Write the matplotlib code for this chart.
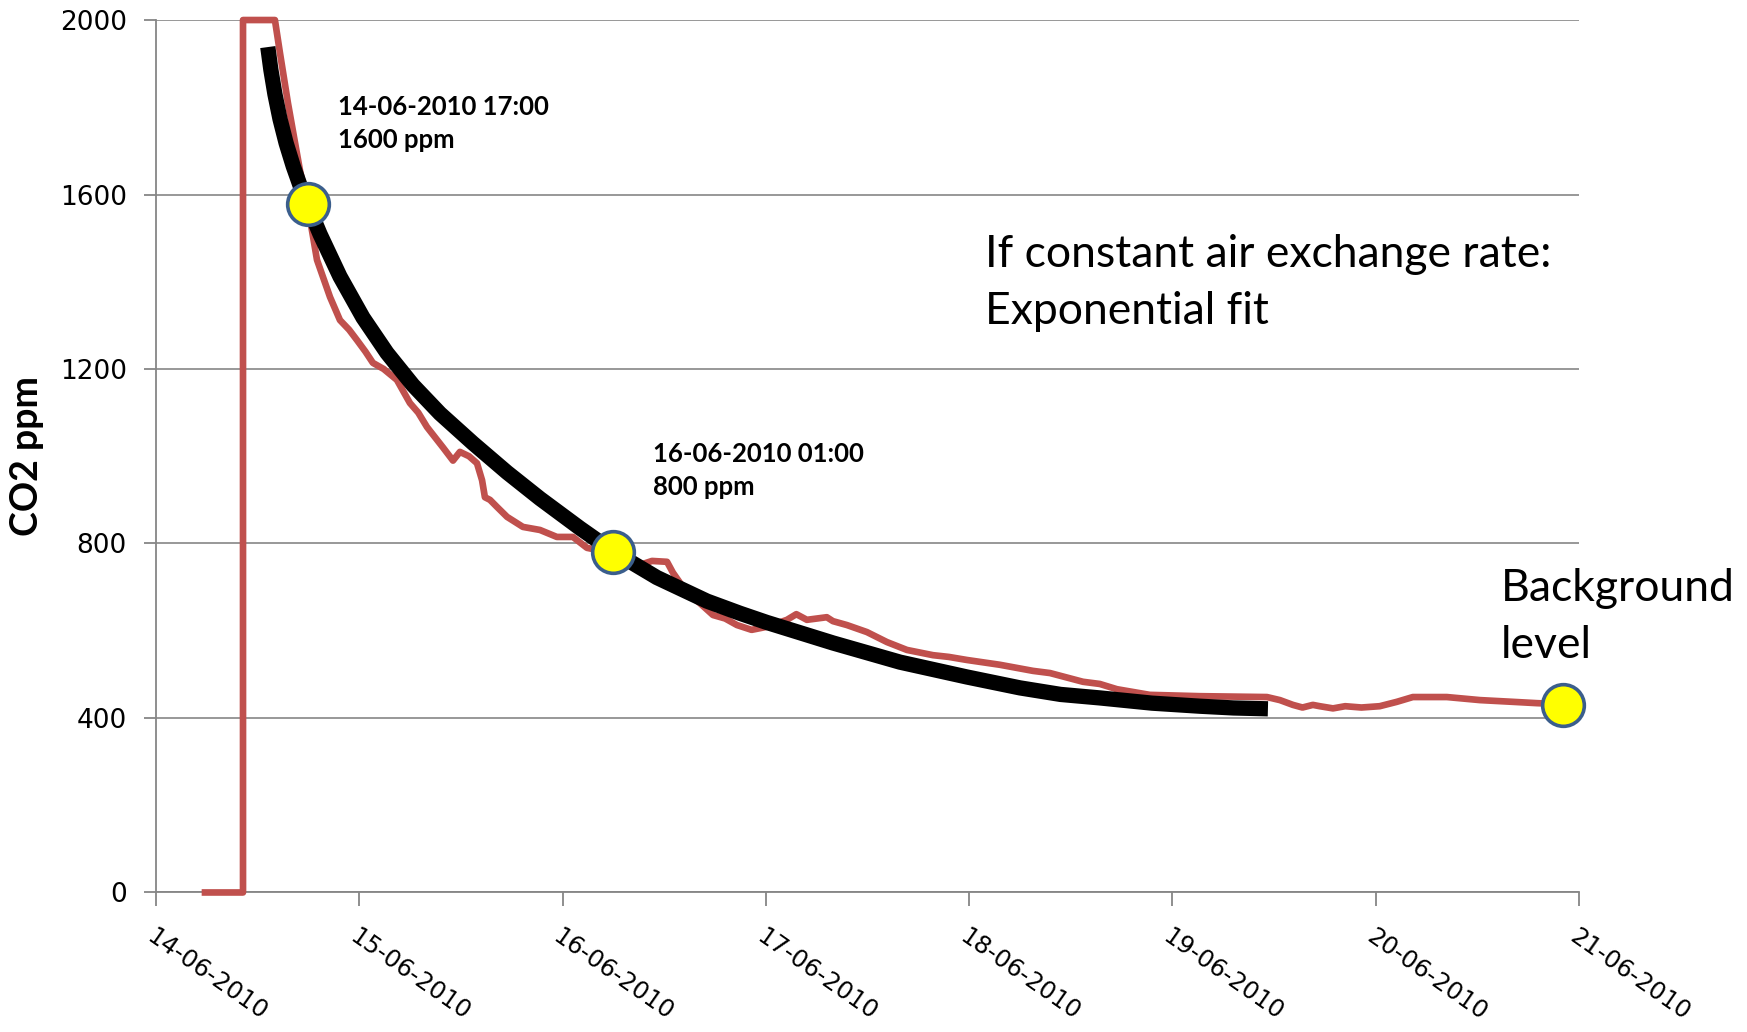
#!/usr/bin/env python

import numpy as np

#	no display here
import matplotlib
matplotlib.use('Agg')

import matplotlib.pyplot as plt

plt.rcParams["figure.figsize"] = [17.47, 10.32]
plt.rcParams["font.family"] = ['DejaVu Sans']

#	days counted from 14-06-2010 00:00
day_labels = ['14-06-2010', '15-06-2010', '16-06-2010', '17-06-2010',
	'18-06-2010', '19-06-2010', '20-06-2010', '21-06-2010']

co2_days = [0.241, 0.428, 0.428, 0.585, 0.610, 0.649, 0.708, 0.748, 0.792, 0.856,
	0.905, 0.950, 0.989, 1.030, 1.067, 1.120, 1.185, 1.249, 1.290, 1.333,
	1.412, 1.461, 1.495, 1.540, 1.579, 1.604, 1.618, 1.643, 1.677, 1.727,
	1.805, 1.889, 1.972, 2.051, 2.120, 2.248, 2.381, 2.440, 2.514, 2.543,
	2.612, 2.676, 2.740, 2.800, 2.858, 2.930, 3.005, 3.104, 3.150, 3.202,
	3.300, 3.330, 3.399, 3.497, 3.596, 3.694, 3.822, 3.900, 3.989, 4.151,
	4.314, 4.398, 4.560, 4.643, 4.727, 4.889, 4.973, 5.135, 5.300, 5.465,
	5.529, 5.593, 5.640, 5.691, 5.725, 5.790, 5.850, 5.930, 6.020, 6.104,
	6.183, 6.350, 6.513, 6.675, 6.793, 6.900]
co2_ppm = [0, 0, 2000, 2000, 1924, 1810, 1656, 1570, 1450, 1365,
	1312, 1290, 1266, 1240, 1214, 1200, 1175, 1122, 1100, 1067,
	1020, 990, 1010, 1000, 984, 945, 906, 900, 884, 861,
	838, 831, 815, 815, 790, 778, 751, 760, 758, 733,
	687, 663, 636, 628, 613, 602, 609, 625, 638, 625,
	631, 622, 613, 597, 574, 556, 544, 540, 533, 522,
	508, 503, 483, 478, 466, 453, 452, 450, 449, 448,
	441, 430, 424, 430, 427, 422, 427, 424, 427, 437,
	448, 448, 441, 437, 434, 432]

#	exponential fit curve
fit_days = [0.55, 0.565, 0.585, 0.61, 0.64, 0.675, 0.71, 0.748, 0.807, 0.905,
	1.018, 1.136, 1.264, 1.397, 1.559, 1.727, 1.889, 2.086, 2.248, 2.464,
	2.710, 2.873, 3.005, 3.330, 3.660, 3.989, 4.250, 4.450, 4.643, 4.900,
	5.135, 5.300, 5.470]
fit_ppm = [1938, 1886, 1830, 1773, 1718, 1665, 1619, 1575, 1509, 1412,
	1318, 1237, 1163, 1098, 1030, 963, 903, 835, 782, 722,
	668, 640, 619, 572, 528, 494, 469, 454, 446, 434,
	427, 423, 421]

#	highlighted points
mark_days = [0.748, 2.248, 6.921]
mark_ppm = [1578, 781, 430]

fig = plt.figure(dpi=100)
ax = fig.add_axes([0.0893, 0.1352, 0.8145, 0.8454])

ax.plot(co2_days, co2_ppm, color='#C0504D', linewidth=4.8, clip_on=False,
	solid_joinstyle='round', zorder=3)
ax.plot(fit_days, fit_ppm, color='black', linewidth=11, solid_capstyle='butt',
	solid_joinstyle='round', zorder=4)
ax.plot(mark_days, mark_ppm, linestyle='none', marker='o', markersize=30,
	markerfacecolor='#FFFF00', markeredgecolor='#3B5E8C', markeredgewidth=2.6,
	clip_on=False, zorder=5)

ax.set_xlim(0, 7)
ax.set_ylim(0, 2000)
ax.set_yticks(np.arange(0, 2001, 400))
ax.set_xticks(np.arange(0, 8))
ax.set_xticklabels(day_labels, rotation=-35, ha='left', va='top',
	rotation_mode='anchor', fontsize=17.5)
ax.tick_params(axis='y', labelsize=19, direction='out', length=9, width=1.3,
	color='#868686', pad=12)
ax.tick_params(axis='x', direction='out', length=10, width=1.3,
	color='#868686', pad=13)

ax.grid(axis='y', color='#868686', linewidth=1.2)
ax.set_axisbelow(True)
for s in ['top', 'right']:
	ax.spines[s].set_visible(False)
for s in ['left', 'bottom']:
	ax.spines[s].set_color('#868686')
	ax.spines[s].set_linewidth(1.3)

ax.set_ylabel('CO2 ppm', family='Lato', fontweight='bold', fontsize=27)
ax.yaxis.set_label_coords(-0.079, 0.5)

ax.text(0.895, 1828, '14-06-2010 17:00\n1600 ppm', family='Lato',
	fontweight='bold', fontsize=18.5, va='top', ha='left', linespacing=1.45)
ax.text(2.445, 1033, '16-06-2010 01:00\n800 ppm', family='Lato',
	fontweight='bold', fontsize=18.5, va='top', ha='left', linespacing=1.45)
ax.text(4.078, 1509, 'If constant air exchange rate:\nExponential fit',
	family='Lato', fontsize=32, va='top', ha='left', linespacing=1.48)
ax.text(6.616, 744, 'Background\nlevel', family='Lato', fontsize=32,
	va='top', ha='left', linespacing=1.48, clip_on=False)

plt.savefig('out.png')
